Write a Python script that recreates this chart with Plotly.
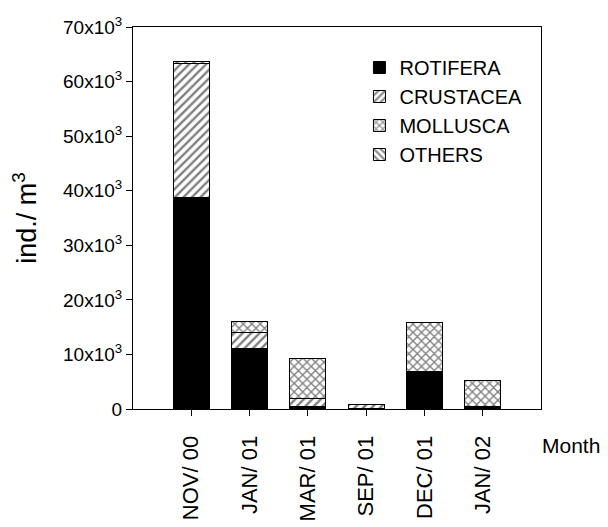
import plotly.graph_objects as go

months = ["NOV/ 00", "JAN/ 01", "MAR/ 01", "SEP/ 01", "DEC/ 01", "JAN/ 02"]
rotifera = [38800, 11000, 400, 50, 6900, 400]
crustacea = [24500, 3000, 1500, 850, 0, 0]
mollusca = [0, 2000, 7300, 0, 8900, 4850]
others = [400, 0, 0, 0, 0, 0]

ytick_vals = [0, 10000, 20000, 30000, 40000, 50000, 60000, 70000]
ytick_text = ["0"] + [f"{v // 1000}x10<sup>3</sup>" for v in ytick_vals[1:]]

series = [
    ("ROTIFERA", rotifera, "", "black"),
    ("CRUSTACEA", crustacea, "/", "white"),
    ("MOLLUSCA", mollusca, "x", "white"),
    ("OTHERS", others, "\\", "white"),
]

x_idx = list(range(len(months)))
fig = go.Figure()
for name, vals, shape, col in series:
    fig.add_trace(go.Bar(
        x=x_idx, y=vals, name=name, width=0.62,
        marker=dict(
            color=col,
            line=dict(color="black", width=1),
            pattern=dict(shape=shape, fgcolor="black", bgcolor="white",
                         size=6, solidity=0.4),
        ),
    ))

font_family = "Liberation Sans, Arial, sans-serif"
fig.update_layout(
    barmode="stack",
    width=600, height=519,
    margin=dict(l=125, r=67, t=19, b=118, autoexpand=False),
    paper_bgcolor="white", plot_bgcolor="white",
    font=dict(family=font_family, color="black"),
    showlegend=True,
    legend=dict(
        x=0.555, y=0.945, xanchor="left", yanchor="top",
        font=dict(size=20, family=font_family, color="black"),
        bgcolor="rgba(0,0,0,0)", borderwidth=0,
        tracegroupgap=4, itemwidth=30, traceorder="normal",
    ),
    xaxis=dict(
        range=[-1, 6], tickmode="array", tickvals=x_idx, ticktext=months,
        tickangle=-90, ticks="outside", ticklen=6, tickcolor="black",
        tickfont=dict(size=22, family=font_family), ticklabelstandoff=11,
        automargin=False,
        showline=True, linecolor="black", linewidth=1, mirror=True,
        showgrid=False, zeroline=False,
    ),
    yaxis=dict(
        range=[0, 70000], tickmode="array", tickvals=ytick_vals, ticktext=ytick_text,
        ticks="outside", ticklen=6, tickcolor="black",
        tickfont=dict(size=19, family=font_family), automargin=False,
        showline=True, linecolor="black", linewidth=1, mirror=True,
        showgrid=False, zeroline=False,
        title=dict(text="ind./ m<sup>3</sup>", font=dict(size=27, family=font_family),
                   standoff=18),
    ),
    annotations=[dict(
        text="Month", xref="paper", yref="paper", x=1.0, y=-0.095,
        xanchor="left", yanchor="middle", xshift=-1, showarrow=False,
        font=dict(size=21, family=font_family, color="black"),
    )],
)

fig.write_html("out.html")
